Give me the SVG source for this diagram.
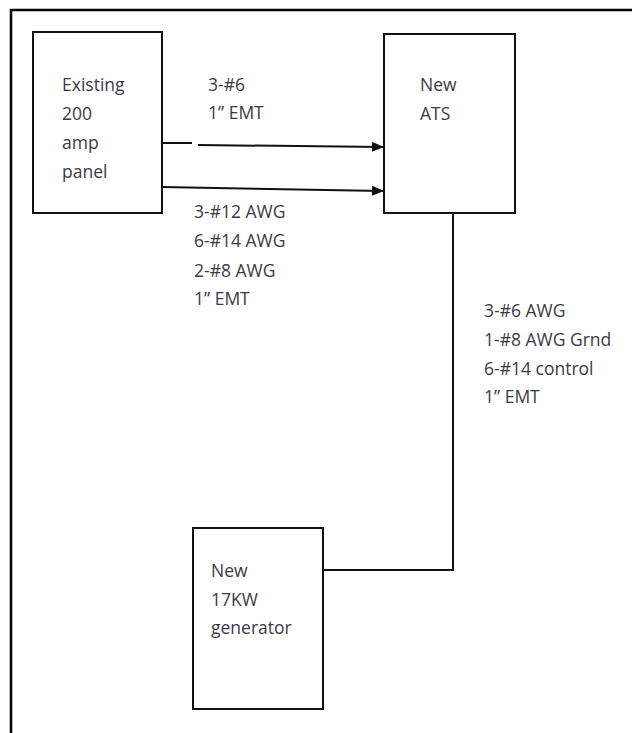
<svg xmlns="http://www.w3.org/2000/svg" width="632" height="733" viewBox="0 0 632 733">
<style>
.box{fill:#fff;stroke:#111;stroke-width:2}
.t{font-family:"Open Sans","Liberation Sans",sans-serif;font-size:17.5px;fill:#3a3a48}
.w{fill:none;stroke:#111;stroke-width:2}
</style>
<defs>
<marker id="ah" markerWidth="12" markerHeight="10" refX="11" refY="5" orient="auto" markerUnits="userSpaceOnUse">
<path d="M0,0 L12,5 L0,10 Z" fill="#111"/>
</marker>
</defs>
<rect width="632" height="733" fill="#fff"/>
<path d="M11,740 L11,10 L640,10" fill="none" stroke="#000" stroke-width="2.5"/>
<g id="panel">
<rect class="box" x="33" y="32" width="129" height="181"/>
<text class="t" x="62" y="91">Existing</text>
<text class="t" x="62" y="120">200</text>
<text class="t" x="62" y="149">amp</text>
<text class="t" x="62" y="178">panel</text>
</g>
<g id="ats">
<rect class="box" x="384" y="34" width="131" height="179"/>
<text class="t" x="420" y="91">New</text>
<text class="t" x="420" y="120">ATS</text>
</g>
<g id="generator">
<rect class="box" x="193" y="528" width="130" height="181"/>
<text class="t" x="211" y="577">New</text>
<text class="t" x="211" y="606">17KW</text>
<text class="t" x="211" y="634">generator</text>
</g>
<g id="connectors">
<line class="w" x1="162" y1="143" x2="192" y2="143"/>
<line class="w" x1="198" y1="145" x2="383" y2="147" marker-end="url(#ah)"/>
<line class="w" x1="162" y1="187" x2="383" y2="191" marker-end="url(#ah)"/>
<polyline class="w" points="453,213 453,570 323,570"/>
</g>
<g id="labels">
<text class="t" x="208" y="91">3-#6</text>
<text class="t" x="208" y="119">1” EMT</text>
<text class="t" x="194" y="218">3-#12 AWG</text>
<text class="t" x="194" y="247">6-#14 AWG</text>
<text class="t" x="194" y="277">2-#8 AWG</text>
<text class="t" x="194" y="305">1” EMT</text>
<text class="t" x="484" y="317">3-#6 AWG</text>
<text class="t" x="484" y="346">1-#8 AWG Grnd</text>
<text class="t" x="484" y="375">6-#14 control</text>
<text class="t" x="484" y="403">1” EMT</text>
</g>
</svg>
